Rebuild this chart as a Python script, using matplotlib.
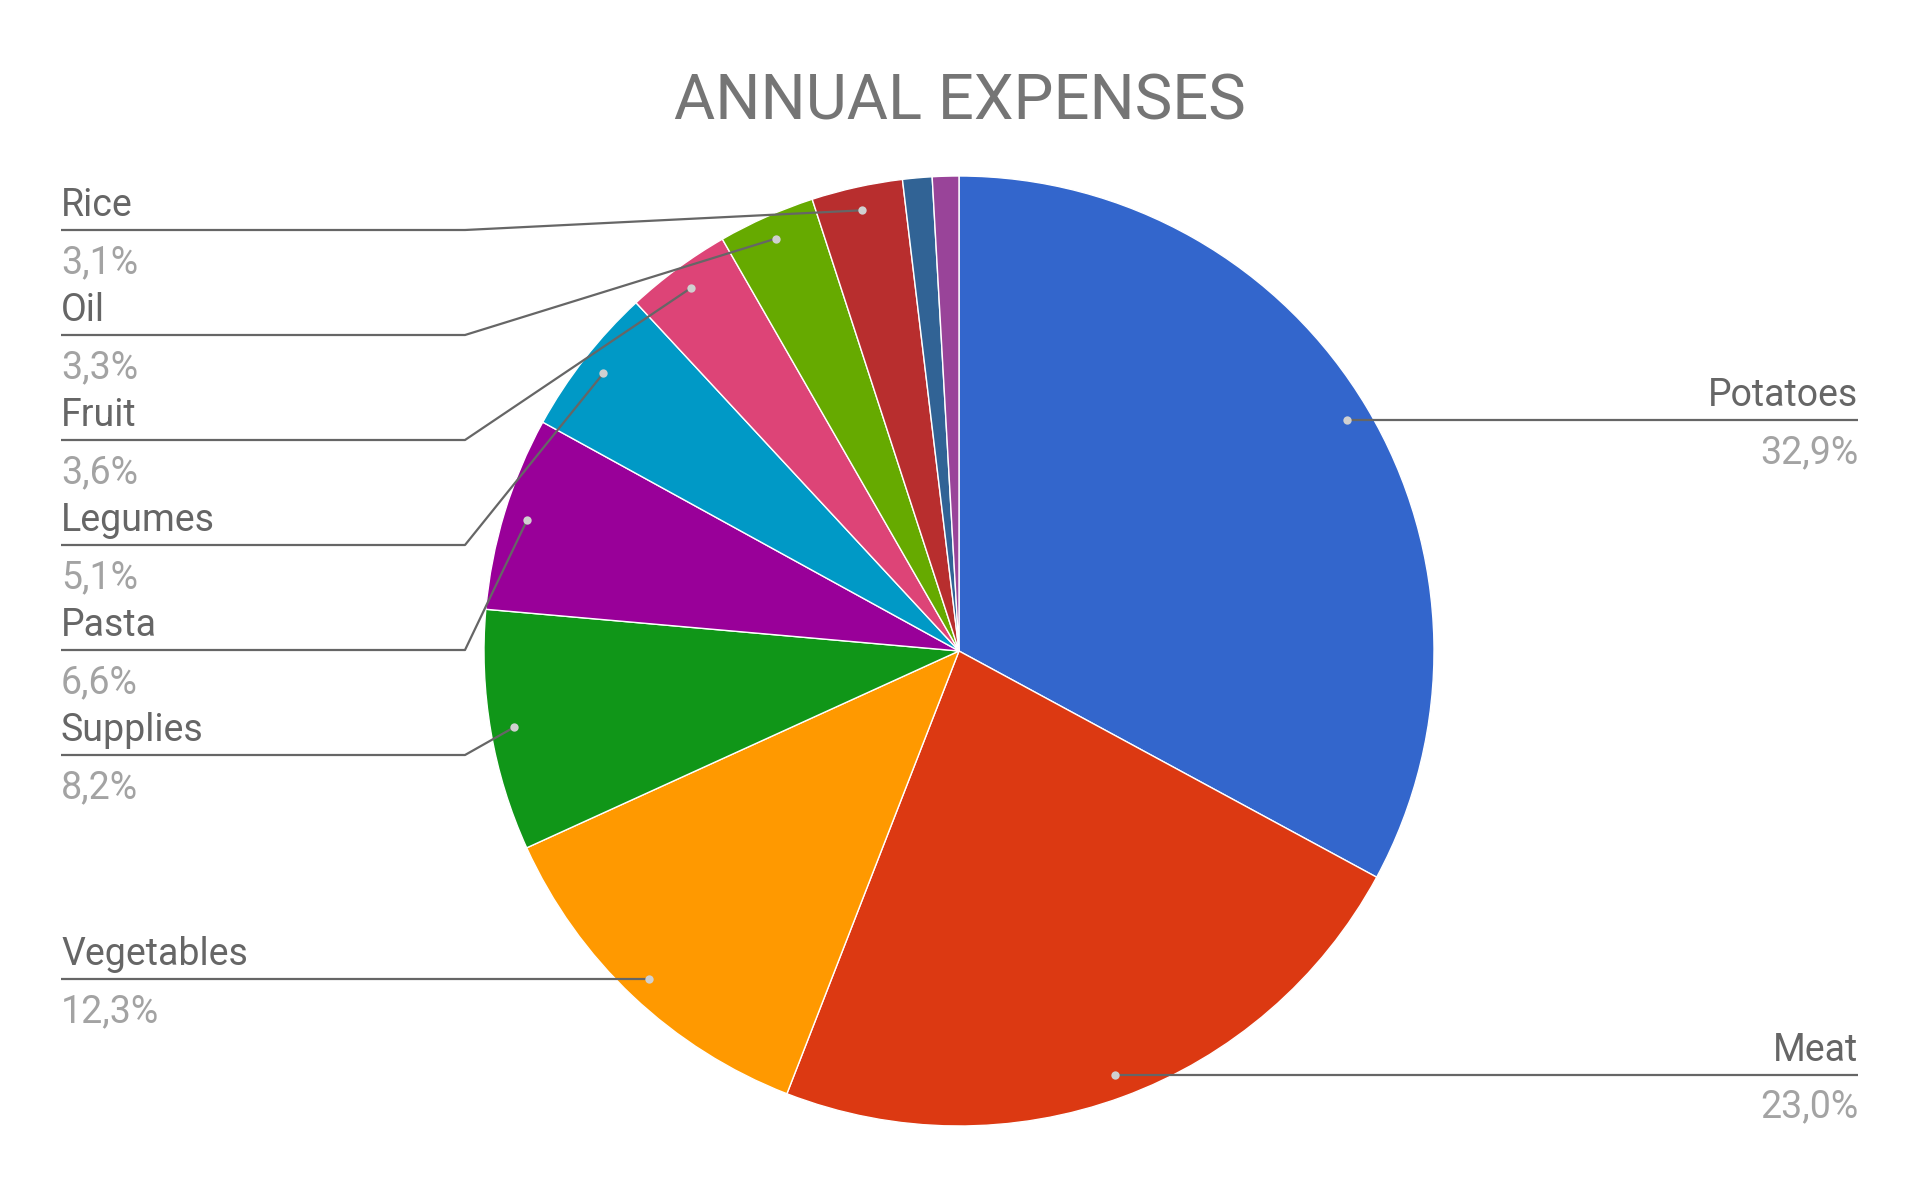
"""
Annual expenses pie chart with leader-line labels.
"""

import numpy as np
import matplotlib
matplotlib.use("Agg")
import matplotlib.pyplot as plt

plt.rcParams["font.family"] = ["Roboto", "DejaVu Sans"]

# data, clockwise from 12 o'clock
categories = ["Potatoes", "Meat", "Vegetables", "Supplies", "Pasta",
              "Legumes", "Fruit", "Oil", "Rice", "", ""]
values = [32.9, 23.0, 12.3, 8.2, 6.6, 5.1, 3.6, 3.3, 3.1, 1.0, 0.9]
colors = ["#3366cc", "#dc3912", "#ff9900", "#109618", "#990099", "#0099c6",
          "#dd4477", "#66aa00", "#b82e2e", "#316395", "#994499"]

# layout in pixels
W, H = 1920, 1188
CX, CY, R = 959, 651, 475
LEFT_X, RIGHT_X, ELBOW_X = 61, 1858, 465
ROW0, ROW_STEP = 755, 105
stacked = ["Supplies", "Pasta", "Legumes", "Fruit", "Oil", "Rice"]
right_side = ["Potatoes", "Meat"]

NAME_C, PCT_C, LINE_C = "#666666", "#a3a3a3", "#666666"
FS = 27

fig = plt.figure(figsize=(W / 100, H / 100), dpi=100)
ax = fig.add_axes([0, 0, 1, 1])
wedges, _ = ax.pie(values, colors=colors, startangle=-90, counterclock=True,
                   center=(CX, CY), radius=R,
                   wedgeprops=dict(edgecolor="white", linewidth=1))
ax.set_xlim(0, W)
ax.set_ylim(H, 0)
ax.set_aspect("auto")
ax.axis("off")

ax.text(CX + 1, 120, "ANNUAL EXPENSES", ha="center", va="baseline",
        fontsize=45.5, color="#757575")

total = sum(values)
for w, name, v in zip(wedges, categories, values):
    if not name:
        continue
    mid = np.deg2rad((w.theta1 + w.theta2) / 2)
    dx = CX + 0.95 * R * np.cos(mid)
    dy = CY + 0.95 * R * np.sin(mid)
    pct = f"{100 * v / total:.1f}%".replace(".", ",")

    if name in right_side:
        xs, ys = [dx, RIGHT_X], [dy, dy]
        ly, tx, ha = dy, RIGHT_X, "right"
    elif name in stacked:
        ly = ROW0 - stacked.index(name) * ROW_STEP
        xs, ys = [LEFT_X, ELBOW_X, dx], [ly, ly, dy]
        tx, ha = LEFT_X, "left"
    else:
        xs, ys = [LEFT_X, dx], [dy, dy]
        ly, tx, ha = dy, LEFT_X, "left"

    ax.plot(xs, ys, color=LINE_C, lw=1.6, solid_capstyle="butt", zorder=3)
    ax.plot(dx, dy, "o", ms=6, color="#d0d0d0", mec="none", zorder=4)
    ax.text(tx, ly - 14, name, ha=ha, va="baseline", fontsize=FS, color=NAME_C)
    ax.text(tx, ly + 43, pct, ha=ha, va="baseline", fontsize=FS, color=PCT_C)

fig.savefig("out.png", dpi=100, facecolor="white")
